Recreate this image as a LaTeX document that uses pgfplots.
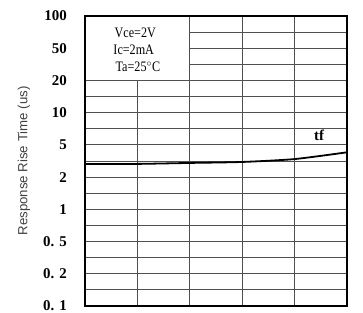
\documentclass[border=0pt]{standalone}
\usepackage{pgfplots}
\pgfplotsset{compat=1.18}
\usepackage{fontspec}
\setmainfont{Liberation Serif}
\newfontfamily\labelsans{Liberation Sans}
\newfontfamily\condserif[FakeStretch=0.84]{Liberation Serif}
\definecolor{gridc}{HTML}{505050}
\definecolor{labc}{HTML}{404040}
\begin{document}
\begin{tikzpicture}
\begin{axis}[
  scale only axis,
  width=262bp, height=290bp,
  xmin=0, xmax=5, ymin=0, ymax=9,
  xtick={1,2,3,4}, xticklabels={},
  ytick={0,1,2,3,4,5,6,7,8,9},
  yticklabels={{0. 1},{0. 2},{0. 5},1,2,5,10,20,50,100},
  minor ytick={0.5,1.5,2.5,3.5,4.5,5.5,6.5,7.5,8.5},
  grid=both,
  major grid style={draw=gridc, line width=0.8bp},
  minor grid style={draw=gridc, line width=0.8bp},
  major tick length=0pt, minor tick length=0pt,
  axis line style={black, line width=1.6bp},
  /pgf/number format/assume math mode=true,
  yticklabel style={font=\bfseries\fontsize{15}{15}\selectfont, anchor=east, inner sep=0pt, xshift=-18bp},
  ylabel={Response Rise Time (us)},
  ylabel style={at={(axis description cs:0,0.5)}, xshift=0bp, yshift=61bp, anchor=center, font=\labelsans\fontsize{13.3}{13.3}\selectfont, text=labc},
  clip=false,
]
\fill[white] ([xshift=0.9bp,yshift=-0.9bp]axis cs:0,9) rectangle ([xshift=-0.5bp,yshift=0.5bp]axis cs:2,7);
\addplot[black, line width=1.8bp, smooth, tension=0.4] coordinates {
  (0,4.41) (1,4.41) (2,4.44) (3,4.47) (4,4.56) (5,4.77)
};
\node[font=\condserif\fontsize{14.5}{14.5}\selectfont, inner sep=0pt] at (axis cs:0.96,8.48) {Vce=2V};
\node[font=\condserif\fontsize{14.5}{14.5}\selectfont, inner sep=0pt] at (axis cs:0.93,7.95) {Ic=2mA};
\node[font=\condserif\fontsize{14.5}{14.5}\selectfont, inner sep=0pt] at (axis cs:1.01,7.42) {Ta=25$^\circ$C};
\node[font=\bfseries\fontsize{15}{15}\selectfont, inner sep=0pt] at (axis cs:4.47,5.31) {tf};
\end{axis}
\path ([shift={(-85bp,-7bp)}]current axis.south west) ([shift={(16bp,16bp)}]current axis.north east);
\end{tikzpicture}
\end{document}
